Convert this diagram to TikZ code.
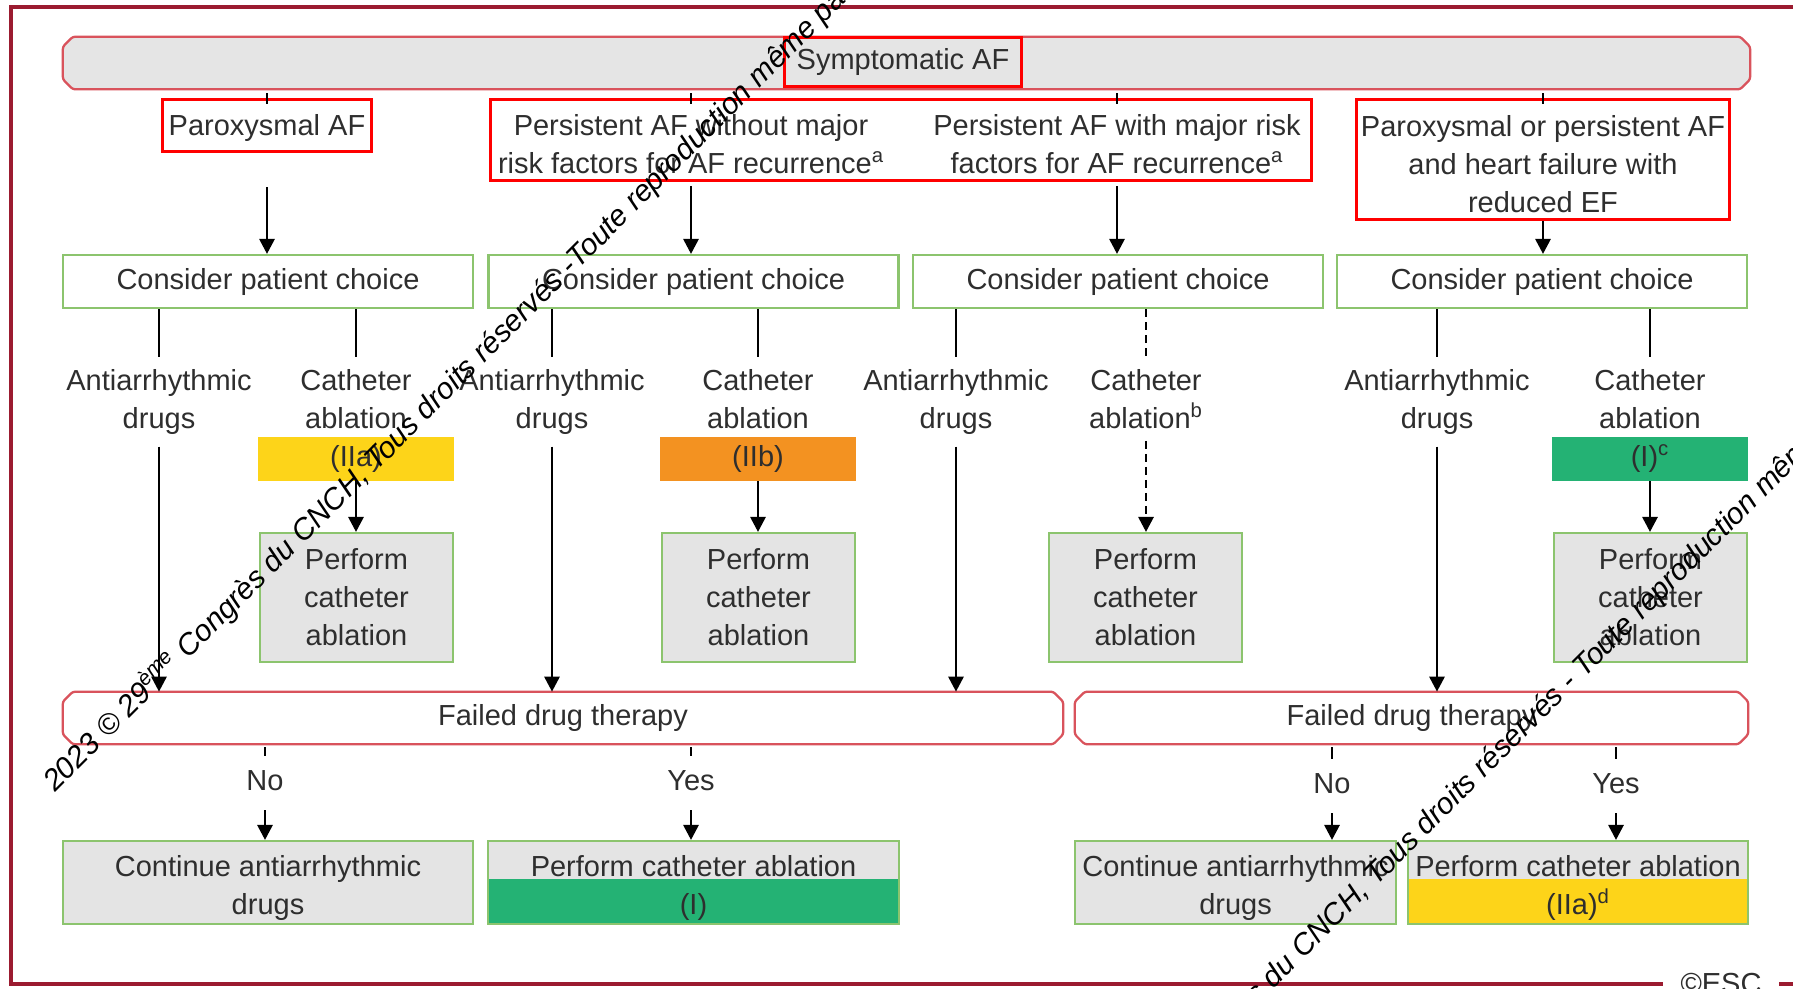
\documentclass[tikz,border=0pt]{standalone}
\usepackage{fontspec}
\setmainfont{Liberation Sans}
\usepackage{tikz}
\usetikzlibrary{arrows.meta,positioning,calc,backgrounds}

\definecolor{framered}{HTML}{9B1B30}
\definecolor{bannerred}{HTML}{D9535C}
\definecolor{markred}{HTML}{FF0000}
\definecolor{boxgreen}{HTML}{8CC46E}
\definecolor{boxgray}{HTML}{E4E4E4}
\definecolor{topgray}{HTML}{E5E5E5}
\definecolor{textgray}{HTML}{2E2E2E}
\definecolor{clsIIa}{HTML}{FDD419}
\definecolor{clsIIb}{HTML}{F39221}
\definecolor{clsI}{HTML}{24B274}

\newcommand{\tallstrut}[1]{\rule{0pt}{#1}}

\tikzset{
  txt/.style={text=textgray, align=center},
  banner/.style={txt, minimum height=1.04cm, inner sep=0pt},
  consider/.style={txt, draw=boxgreen, line width=1.2pt, fill=white, minimum width=8.2cm, minimum height=1.06cm, inner sep=0pt},
  perform/.style={txt, draw=boxgreen, line width=1.2pt, fill=boxgray, minimum width=3.86cm, minimum height=2.58cm, inner sep=0pt},
  result/.style={txt, draw=boxgreen, line width=1.2pt, fill=boxgray, minimum height=1.66cm, inner sep=0pt},
  strip/.style={path picture={\fill[#1] ([yshift=-0.76cm]path picture bounding box.north west) rectangle (path picture bounding box.south east);}},
  cls/.style={txt, fill=#1, minimum width=3.92cm, minimum height=0.88cm, inner sep=0pt},
  branch/.style={txt, inner sep=0.24cm, anchor=north},
  yn/.style={txt, text height=0.42cm, text depth=0.12cm, inner sep=0.27cm},
  redmark/.style={draw=markred, line width=0.06cm},
  arr/.style={line width=1.6pt, -{Triangle[length=0.3cm,width=0.3cm]}},
  stub/.style={line width=1.5pt},
  wmark/.style={font=\fontsize{17}{20}\selectfont\itshape, anchor=base west, rotate=45, inner sep=0pt},
}

\newcommand{\chamfer}[2]{%
  \draw[draw=bannerred, line width=1.3pt, fill=#2, rounded corners=1.5pt]
    ($(#1.north west)+(10,0)$) -- ($(#1.north east)+(-10,0)$) -- ($(#1.north east)+(0,10)$)
    -- ($(#1.south east)+(0,-10)$) -- ($(#1.south east)+(-10,0)$) -- ($(#1.south west)+(10,0)$)
    -- ($(#1.south west)+(0,-10)$) -- ($(#1.north west)+(0,10)$) -- cycle;}

\begin{document}
\begin{tikzpicture}[x=0.02cm, y=-0.02cm, font=\fontsize{16.5}{21.6}\selectfont]
  \useasboundingbox (0,0) rectangle (1793,988);
  \clip (0,0) rectangle (1793,988);

  % top level
  \node[banner, minimum width=33.74cm] (top) at (906.5,63) {};
  \node[txt, redmark, minimum width=4.76cm, minimum height=0.98cm, inner sep=0pt] (symp) at (903,62) {Symptomatic AF};

  \node[txt, redmark, minimum width=4.2cm, minimum height=1.04cm, inner sep=0pt] (cat1) at (267,125) {\tallstrut{0.56cm}Paroxysmal AF};
  \node[txt, inner sep=0.24cm] (cat2) at (691,144.5) {Persistent AF without major\\risk factors for AF recurrence\textsuperscript{a}};
  \node[txt, inner sep=0.24cm] (cat3) at (1117,144.5) {Persistent AF with major risk\\factors for AF recurrence\textsuperscript{a}};
  \node[txt, redmark, minimum width=7.48cm, minimum height=2.42cm, inner sep=0pt] (cat4) at (1543,159.5) {\tallstrut{0.6cm}Paroxysmal or persistent AF\\and heart failure with\\reduced EF};
  \draw[redmark] (490,99) rectangle (1311,180);

  \foreach \c in {cat1,cat2,cat3,cat4}
    \draw[stub] ([yshift=-0.08cm]top.south -| \c) -- ++(0,11);

  \node[consider] (consA) at (268,281.5) {Consider patient choice};
  \node[consider] (consB) at (693.5,281.5) {Consider patient choice};
  \node[consider] (consC) at (1118,281.5) {Consider patient choice};
  \node[consider] (consD) at (1542,281.5) {Consider patient choice};

  \draw[arr, shorten <=0.7cm] (cat1.south) -- (cat1.south |- consA.north);
  \draw[arr] (cat2.south) -- (cat2.south |- consB.north);
  \draw[arr] (cat3.south) -- (cat3.south |- consC.north);
  \draw[arr] (cat4.south) -- (cat4.south |- consD.north);

  % treatment options
  \node[branch] (antiA) at (159,357) {Antiarrhythmic\\drugs};
  \node[branch] (cathA) at (356,357) {Catheter\\ablation};
  \node[branch] (antiB) at (552,357) {Antiarrhythmic\\drugs};
  \node[branch] (cathB) at (758,357) {Catheter\\ablation};
  \node[branch] (antiC) at (956,357) {Antiarrhythmic\\drugs};
  \node[branch] (cathC) at (1146,357) {Catheter\\ablation\textsuperscript{b}};
  \node[branch] (antiD) at (1437,357) {Antiarrhythmic\\drugs};
  \node[branch] (cathD) at (1650,357) {Catheter\\ablation};

  \draw[stub] (consA.south -| antiA) -- (antiA.north);
  \draw[stub] (consA.south -| cathA) -- (cathA.north);
  \draw[stub] (consB.south -| antiB) -- (antiB.north);
  \draw[stub] (consB.south -| cathB) -- (cathB.north);
  \draw[stub] (consC.south -| antiC) -- (antiC.north);
  \draw[stub, dash pattern=on 0.16cm off 0.1cm] (consC.south -| cathC) -- (cathC.north);
  \draw[stub] (consD.south -| antiD) -- (antiD.north);
  \draw[stub] (consD.south -| cathD) -- (cathD.north);

  \node[cls=clsIIa] (clsA) at (356,459) {(IIa)};
  \node[cls=clsIIb] (clsB) at (758,459) {(IIb)};
  \node[cls=clsI] (clsD) at (1650,459) {(I)\textsuperscript{c}};

  \node[perform] (perfA) at (356.5,597.5) {Perform\\catheter\\ablation};
  \node[perform] (perfB) at (758.5,597.5) {Perform\\catheter\\ablation};
  \node[perform] (perfC) at (1145.5,597.5) {Perform\\catheter\\ablation};
  \node[perform] (perfD) at (1650.5,597.5) {Perform\\catheter\\ablation};

  \draw[arr] (clsA.south) -- (clsA.south |- perfA.north);
  \draw[arr] (clsB.south) -- (clsB.south |- perfB.north);
  \draw[arr, dash pattern=on 0.16cm off 0.1cm] (cathC.south) -- (cathC.south |- perfC.north);
  \draw[arr] (clsD.south) -- (clsD.south |- perfD.north);

  % failed drug therapy
  \node[banner, minimum width=20cm] (failL) at (563,718) {Failed drug therapy};
  \node[banner, minimum width=13.46cm] (failR) at (1411.5,718) {Failed drug therapy};

  \draw[arr] (antiA.south) -- (antiA.south |- failL.north);
  \draw[arr] (antiB.south) -- (antiB.south |- failL.north);
  \draw[arr] (antiC.south) -- (antiC.south |- failL.north);
  \draw[arr] (antiD.south) -- (antiD.south |- failR.north);

  \node[yn] (noL) at (265,783) {No};
  \node[yn] (yesL) at (691,783) {Yes};
  \node[yn] (noR) at (1332,786) {No};
  \node[yn] (yesR) at (1616,786) {Yes};

  \node[result, minimum width=8.2cm] (contL) at (268,882.5) {\tallstrut{0.64cm}Continue antiarrhythmic\\drugs};
  \node[result, minimum width=8.22cm, strip=clsI] (ablL) at (693.5,882.5) {\tallstrut{0.64cm}Perform catheter ablation\\(I)};
  \node[result, minimum width=6.42cm] (contR) at (1235.5,882.5) {\tallstrut{0.64cm}Continue antiarrhythmic\\drugs};
  \node[result, minimum width=6.8cm, strip=clsIIa] (ablR) at (1578,882.5) {\tallstrut{0.64cm}Perform catheter ablation\\(IIa)\textsuperscript{d}};

  \draw[stub, shorten <=0.06cm] (failL.south -| noL) -- (noL.north);
  \draw[stub, shorten <=0.06cm] (failL.south -| yesL) -- (yesL.north);
  \draw[stub, shorten <=0.06cm] (failR.south -| noR) -- (noR.north);
  \draw[stub, shorten <=0.06cm] (failR.south -| yesR) -- (yesR.north);
  \draw[arr] (noL.south) -- (noL.south |- contL.north);
  \draw[arr] (yesL.south) -- (yesL.south |- ablL.north);
  \draw[arr] (noR.south) -- (noR.south |- contR.north);
  \draw[arr] (yesR.south) -- (yesR.south |- ablR.north);

  % frame
  \draw[framered, line width=0.07cm] (1850,984) -| (11,7) -- (1850,7);
  \node[txt, fill=white, anchor=base, inner xsep=0.36cm, inner ysep=0.04cm] (esc) at (1721,993) {\textcopyright ESC};

  % watermark
  \node[wmark] (wm1) at (55,793) {2023 \textcopyright{} 29\textsuperscript{ème} Congrès du CNCH, Tous droits réservés -Toute reproduction même partielle};
  \node[wmark] (wm2) at (1055,1208) {2023 \textcopyright{} 29\textsuperscript{ème} Congrès du CNCH, Tous droits réservés - Toute reproduction même partielle};

  \begin{scope}[on background layer]
    \fill[white] (0,0) rectangle (1793,988);
    \chamfer{top}{topgray}
    \chamfer{failL}{white}
    \chamfer{failR}{white}
  \end{scope}
\end{tikzpicture}
\end{document}
